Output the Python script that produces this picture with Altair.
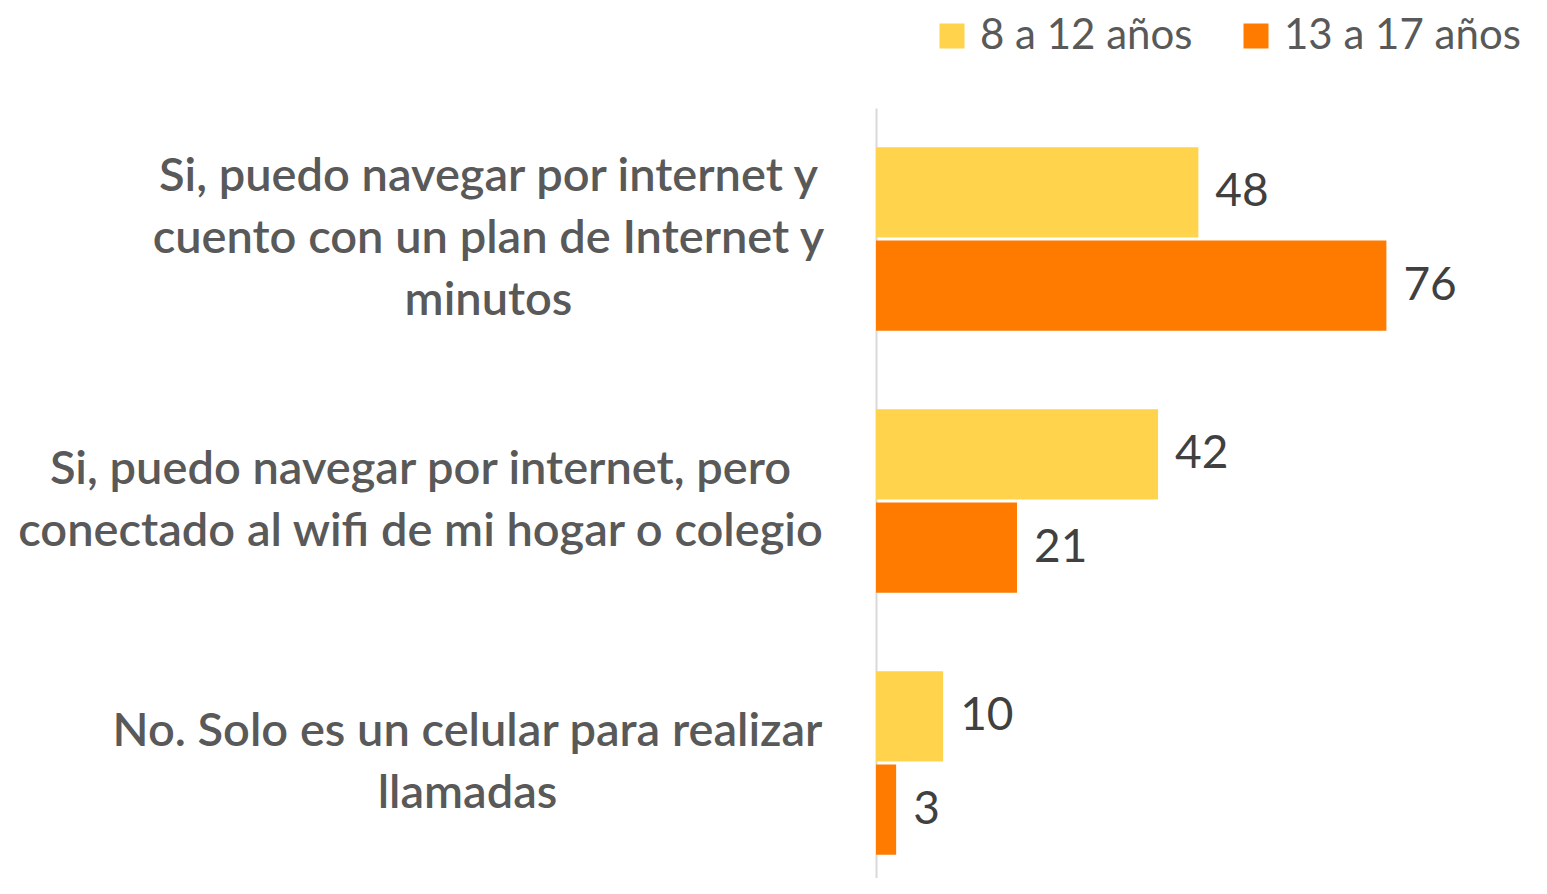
import altair as alt
import pandas as pd

categories = [
    "Si, puedo navegar por internet y|cuento con un plan de Internet y|minutos",
    "Si, puedo navegar por internet, pero|conectado al wifi de mi hogar o colegio",
    "No. Solo es un celular para realizar|llamadas",
]
series = ["8 a 12 años", "13 a 17 años"]
vals_8_12 = [48, 42, 10]
vals_13_17 = [76, 21, 3]
colors = ["#FFD34C", "#FF7B00"]

rows = []
for c, a, b in zip(categories, vals_8_12, vals_13_17):
    rows.append({"categoria": c, "serie": series[0], "valor": a})
    rows.append({"categoria": c, "serie": series[1], "valor": b})
df = pd.DataFrame(rows)

FONT = "Lato"
LINE_H = 62
# horizontal centre of each label block (distance from the axis), style only
label_pad = [388, 456, 409]


def cond(values):
    conds = [
        {"test": "datum.value == '%s'" % c, "value": v}
        for c, v in zip(categories[:-1], values[:-1])
    ]
    return {"condition": conds, "value": values[-1]}


n_lines = [len(c.split("|")) for c in categories]
label_off = [-(n - 1) * LINE_H / 2 for n in n_lines]

y_enc = alt.Y(
    "categoria:N",
    sort=categories,
    scale=alt.Scale(range=[0, 786], paddingInner=0.3, paddingOuter=0.15),
    axis=alt.Axis(
        title=None,
        labelExpr="split(datum.label, '|')",
        labelFont=FONT,
        labelFontSize=47,
        labelFontWeight=600,
        labelLineHeight=LINE_H,
        labelColor="#595959",
        labelPadding=cond(label_pad),
        labelOffset=cond(label_off),
        labelLimit=1000,
        labelAlign="center",
        labelBaseline="middle",
        ticks=False,
        domainColor="#D9D9D9",
        domainWidth=2,
        grid=False,
    ),
)
yoff = alt.YOffset("serie:N", sort=series, scale=alt.Scale(paddingInner=0.03))
x_enc = alt.X("valor:Q", scale=alt.Scale(domain=[0, 95]), axis=None)

base = alt.Chart(df).encode(y=y_enc, yOffset=yoff, x=x_enc)

bars = base.mark_bar().encode(
    color=alt.Color(
        "serie:N",
        sort=series,
        scale=alt.Scale(domain=series, range=colors),
        legend=alt.Legend(
            title=None,
            orient="none",
            legendX=55,
            legendY=-93,
            direction="horizontal",
            symbolType="square",
            symbolSize=625,
            symbolStrokeWidth=0,
            symbolOpacity=1,
            labelFont=FONT,
            labelFontSize=42,
            labelColor="#595959",
            labelOffset=7,
            labelLimit=600,
            columnPadding=42,
        ),
    )
)

labels = base.mark_text(
    align="left", baseline="middle", dx=17, font=FONT, fontSize=46, color="#404040"
).encode(text="valor:Q")

chart = (
    alt.layer(bars, labels)
    .properties(
        width=638,
        height=770,
        background="white",
        autosize=alt.AutoSizeParams(type="none"),
        padding={"left": 868, "top": 100, "right": 25, "bottom": 0},
    )
    .configure_view(stroke=None)
)

chart.save("out.html", embed_options={"renderer": "svg", "actions": False})
